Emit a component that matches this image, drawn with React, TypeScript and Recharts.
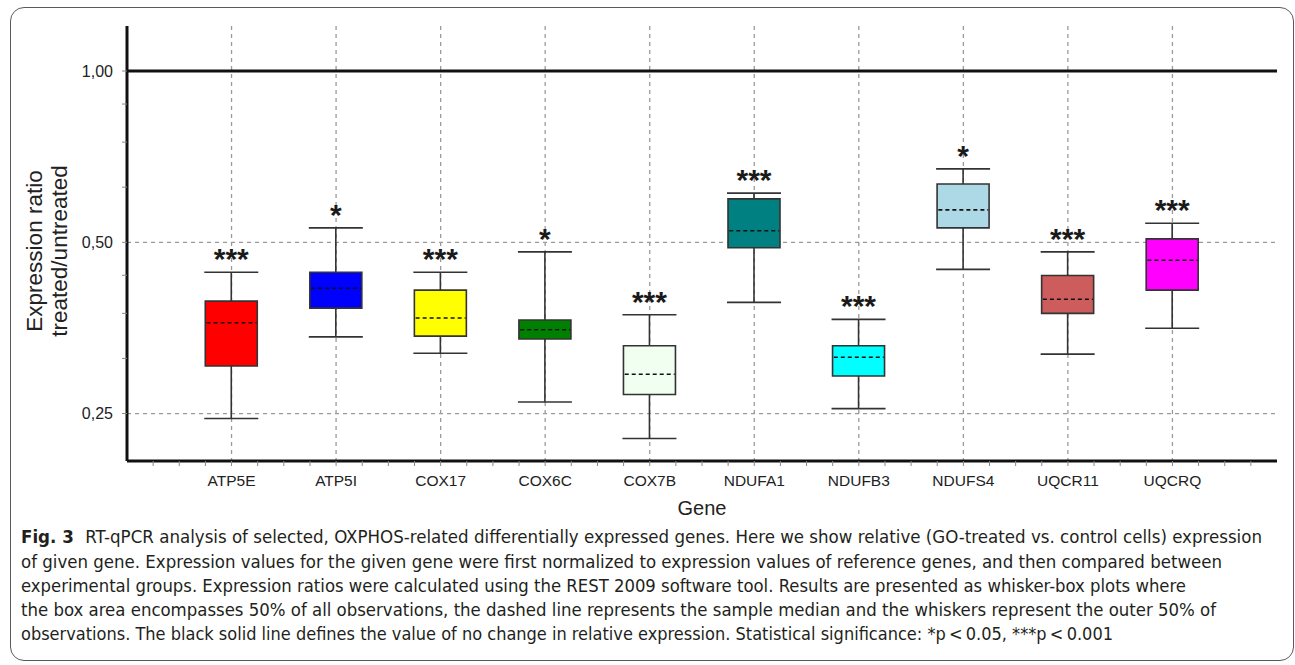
import React from 'react';
import {
  ComposedChart,
  Bar,
  Scatter,
  XAxis,
  YAxis,
  CartesianGrid,
  ReferenceLine,
  LabelList,
  Cell,
} from 'recharts';

// ---------- data ----------
const genes = ['ATP5E', 'ATP5I', 'COX17', 'COX6C', 'COX7B', 'NDUFA1', 'NDUFB3', 'NDUFS4', 'UQCR11', 'UQCRQ'];
const whiskerLow = [0.245, 0.341, 0.319, 0.262, 0.226, 0.392, 0.255, 0.448, 0.318, 0.353];
const boxLow = [0.303, 0.383, 0.342, 0.338, 0.27, 0.489, 0.291, 0.53, 0.375, 0.412];
const medians = [0.361, 0.415, 0.368, 0.351, 0.293, 0.524, 0.314, 0.57, 0.397, 0.465];
const boxHigh = [0.394, 0.443, 0.412, 0.365, 0.329, 0.596, 0.329, 0.633, 0.437, 0.507];
const whiskerHigh = [0.443, 0.53, 0.443, 0.481, 0.373, 0.61, 0.366, 0.673, 0.481, 0.54];
const significance = ['***', '*', '***', '*', '***', '***', '***', '*', '***', '***'];
const boxColors = ['#FF0000', '#0000FF', '#FFFF00', '#008000', '#F0FFF0', '#008080', '#00FFFF', '#ADD8E6', '#CD5C5C', '#FF00FF'];

const yTicks = [0.25, 0.3125, 0.375, 0.4375, 0.5, 0.625, 0.75, 0.875, 1];
const yMajor = [0.25, 0.5, 1];
const yDomain = [0.2063, 1.2];
const xTicks = Array.from({ length: 43 }, (_, i) => (i + 1) * 0.25);
const noChange = 1;
const gridY = [0.25, 0.5];

const captionLines = [
  'RT-qPCR analysis of selected, OXPHOS-related differentially expressed genes. Here we show relative (GO-treated vs. control cells) expression',
  'of given gene. Expression values for the given gene were first normalized to expression values of reference genes, and then compared between',
  'experimental groups. Expression ratios were calculated using the REST 2009 software tool. Results are presented as whisker-box plots where',
  'the box area encompasses 50% of all observations, the dashed line represents the sample median and the whiskers represent the outer 50% of',
  'observations. The black solid line defines the value of no change in relative expression. Statistical significance: *p\u2009<\u20090.05, ***p\u2009<\u20090.001',
];

const rows = genes.map((g, i) => ({
  x: i + 1,
  gene: g,
  whisker: [whiskerLow[i], whiskerHigh[i]],
  box: [boxLow[i], boxHigh[i]],
  median: medians[i],
  sig: significance[i],
  color: boxColors[i],
}));
const gridX = rows.map((r) => r.x);

const FONT = "'Liberation Sans', Arial, Helvetica, sans-serif";
const CAP_FONT = "'DejaVu Sans Condensed', 'Liberation Sans Narrow', 'Liberation Sans', sans-serif";

const fmt = (v: number) => v.toFixed(2).replace('.', ',');

const YTick = (props: any) => {
  const { x, y, payload } = props;
  if (!yMajor.includes(payload.value)) return <g />;
  return (
    <text x={x} y={y} dy="0.36em" textAnchor="end" fontSize={16} fill="#222" fontFamily={FONT}>
      {fmt(payload.value)}
    </text>
  );
};

const XTick = (props: any) => {
  const { x, y, payload } = props;
  const v = payload.value;
  if (Math.abs(v - Math.round(v)) > 1e-6) return <g />;
  const name = genes[Math.round(v) - 1];
  if (!name) return <g />;
  return (
    <text x={x} y={y} dy={20} textAnchor="middle" fontSize={15.5} fill="#222" fontFamily={FONT}>
      {name}
    </text>
  );
};

const Whisker = (props: any) => {
  const { x, y, width, height } = props;
  if (x == null || y == null) return <g />;
  const top = Math.min(y, y + height);
  const bot = Math.max(y, y + height);
  const cx = x + width / 2;
  return (
    <g stroke="#333" strokeWidth={1.6}>
      <line x1={cx} x2={cx} y1={top} y2={bot} />
      <line x1={x} x2={x + width} y1={top} y2={top} />
      <line x1={x} x2={x + width} y1={bot} y2={bot} />
    </g>
  );
};

const MedianLine = (props: any) => {
  const { cx, cy } = props;
  if (cx == null || cy == null) return <g />;
  return <line x1={cx - 25} x2={cx + 25} y1={cy} y2={cy} stroke="#111" strokeWidth={1.6} strokeDasharray="4 3" />;
};

const Stars = (props: any) => {
  const { x, y, width, height, value } = props;
  const top = Math.min(y, y + height);
  return (
    <text x={x + width / 2} y={top - 3} textAnchor="middle" fontSize={30} fontWeight="bold" fill="#1a1a1a" fontFamily={FONT}>
      {value}
    </text>
  );
};

const YTitle = (props: any) => {
  const vb = props.viewBox || { x: 67, y: 26, width: 60, height: 435 };
  const cy = vb.y + vb.height / 2 + 7.5;
  const x1 = vb.x - 25;
  const x2 = vb.x - 0.5;
  return (
    <g fontFamily={FONT} fontSize={22.5} fill="#222">
      <text x={x1} y={cy} textAnchor="middle" transform={`rotate(-90, ${x1}, ${cy})`}>
        Expression ratio
      </text>
      <text x={x2} y={cy} textAnchor="middle" transform={`rotate(-90, ${x2}, ${cy})`}>
        treated/untreated
      </text>
    </g>
  );
};

const captionX = 21;
const captionBaselines = [543, 567.5, 592, 616, 640];
const captionEnds = [1262, 1222, 1186, 1216, 1113];

export default function App() {
  return (
    <div style={{ position: 'absolute', left: 0, top: 0, width: 1295, height: 665, background: '#fff', overflow: 'hidden' }}>
      <div
        style={{
          position: 'absolute',
          left: 10,
          top: 7,
          width: 1284,
          height: 654,
          border: '1.5px solid #5a5a5a',
          borderRadius: 14,
          boxSizing: 'border-box',
        }}
      />
      <div style={{ position: 'absolute', left: 0, top: 0 }}>
        <ComposedChart width={1295} height={530} data={rows} margin={{ top: 26, right: 18, left: 67, bottom: 9 }}>
          <CartesianGrid
            xAxisId="main"
            verticalValues={gridX}
            horizontalValues={gridY}
            stroke="#9a9a9a"
            strokeWidth={1.3}
            strokeDasharray="4 4"
          />
          <XAxis
            xAxisId="main"
            type="number"
            dataKey="x"
            domain={[0, 11]}
            ticks={xTicks}
            interval={0}
            allowDecimals
            tick={<XTick />}
            tickSize={5}
            tickMargin={0}
            height={60}
            axisLine={{ stroke: '#111', strokeWidth: 3 }}
            tickLine={{ stroke: '#888', strokeWidth: 1 }}
            label={{ value: 'Gene', position: 'insideBottom', offset: 6, fontSize: 20, fill: '#222', fontFamily: FONT }}
          />
          <XAxis xAxisId="box" type="number" dataKey="x" domain={[0, 11]} hide height={0} />
          <YAxis
            type="number"
            scale="log"
            domain={yDomain}
            allowDataOverflow
            ticks={yTicks}
            interval={0}
            tick={<YTick />}
            tickSize={5}
            tickMargin={9}
            width={60}
            axisLine={{ stroke: '#111', strokeWidth: 3 }}
            tickLine={{ stroke: '#888', strokeWidth: 1 }}
            label={{ content: (p: any) => <YTitle {...p} /> }}
          />
          <ReferenceLine xAxisId="main" y={noChange} stroke="#111" strokeWidth={3} />
          <Bar xAxisId="main" dataKey="whisker" barSize={54} shape={<Whisker />} isAnimationActive={false}>
            <LabelList dataKey="sig" content={<Stars />} />
          </Bar>
          <Bar xAxisId="box" dataKey="box" barSize={52} stroke="#333" strokeWidth={1.6} isAnimationActive={false}>
            {rows.map((r) => (
              <Cell key={r.gene} fill={r.color} />
            ))}
          </Bar>
          <Scatter xAxisId="main" dataKey="median" shape={<MedianLine />} isAnimationActive={false} />
        </ComposedChart>
      </div>
      <svg style={{ position: 'absolute', left: 0, top: 0 }} width={1295} height={665} pointerEvents="none">
        <g fontFamily={CAP_FONT} fontSize={17} fill="#231f20">
          {captionLines.map((line, i) => (
            <text
              key={i}
              x={captionX}
              y={captionBaselines[i]}
              textLength={captionEnds[i] - captionX}
              lengthAdjust="spacingAndGlyphs"
            >
              {i === 0 ? <tspan fontWeight="bold">{'Fig.\u00a03\u00a0\u00a0'}</tspan> : null}
              {line}
            </text>
          ))}
        </g>
      </svg>
    </div>
  );
}
